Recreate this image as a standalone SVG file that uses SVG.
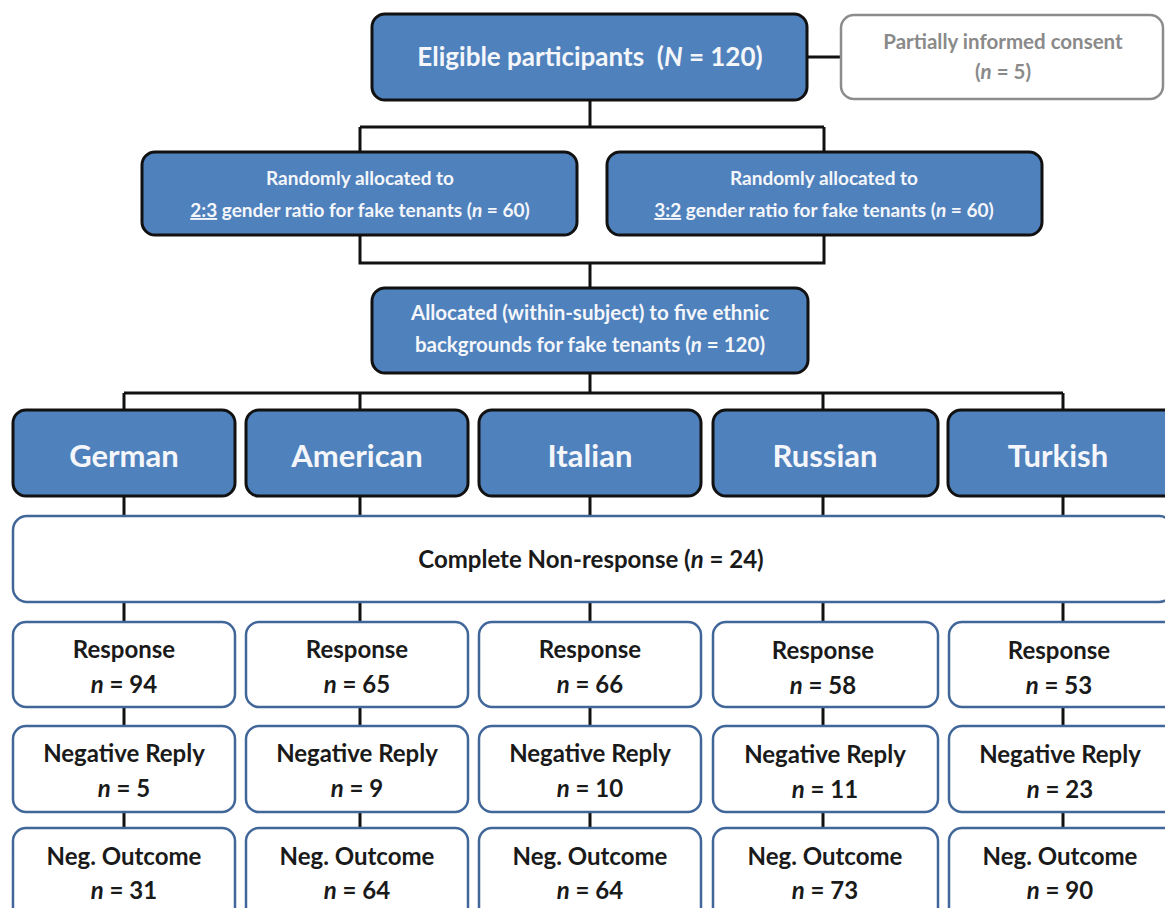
<svg xmlns="http://www.w3.org/2000/svg" width="1165" height="908" viewBox="0 0 1165 908">
<style>
.blue{fill:#4f81bd;stroke:#111;stroke-width:3}
.wbox{fill:#fff;stroke:#41679a;stroke-width:2.5}
.gbox{fill:#fff;stroke:#8c8c8c;stroke-width:2.5}
.conn{fill:none;stroke:#111;stroke-width:3}
text{font-family:Lato,"Open Sans","Liberation Sans",sans-serif;font-weight:bold;text-anchor:middle}
.wt{fill:#f4f6fa}
.bt{fill:#1a1a1a}
.gt{fill:#8a8a8a}
.it{font-style:italic}
.t1{font-size:26px}
.t2{font-size:19px}
.t5{font-size:20.5px}
.t3{font-size:31px}
.t4{font-size:24px}
</style>
<g id="connectors">
<path class="conn" d="M807,57 H840"/>
<path class="conn" d="M590,100 V127 M360,127 H824 M360,127 V152 M824,127 V152"/>
<path class="conn" d="M360,235 V263 H824 V235 M590,263 V288"/>
<path class="conn" d="M590,373 V393 M124,393 H1063 M124,393 V410 M360,393 V410 M823,393 V410 M1063,393 V410"/>
<path class="conn" d="M124,496 V516 M360,496 V516 M590,496 V516 M823,496 V516 M1063,496 V516"/>
<path class="conn" d="M124,602 V622 M360,602 V622 M590,602 V622 M823,602 V622 M1063,602 V622"/>
<path class="conn" d="M124,707 V726 M360,707 V726 M590,707 V726 M823,707 V726 M1063,707 V726"/>
<path class="conn" d="M124,812 V828 M360,812 V828 M590,812 V828 M823,812 V828 M1063,812 V828"/>
</g>
<g id="eligible">
<rect class="blue" x="372" y="14" width="435" height="86" rx="13"/>
<text class="wt t1" x="590" y="66">Eligible participants&#160; (<tspan class="it">N</tspan> = 120)</text>
</g>
<g id="consent">
<rect class="gbox" x="841" y="15" width="322" height="84" rx="13"/>
<text class="gt t5" x="1003" y="49">Partially informed consent</text>
<text class="gt t5" x="1003" y="79">(<tspan class="it">n</tspan> = 5)</text>
</g>
<g id="ratio23">
<rect class="blue" x="142" y="152" width="435" height="83" rx="13"/>
<text class="wt t2" x="360" y="185">Randomly allocated to</text>
<text class="wt t2" x="360" y="217"><tspan text-decoration="underline">2:3</tspan> gender ratio for fake tenants (<tspan class="it">n</tspan> = 60)</text>
</g>
<g id="ratio32">
<rect class="blue" x="607" y="152" width="435" height="83" rx="13"/>
<text class="wt t2" x="824" y="185">Randomly allocated to</text>
<text class="wt t2" x="824" y="217"><tspan text-decoration="underline">3:2</tspan> gender ratio for fake tenants (<tspan class="it">n</tspan> = 60)</text>
</g>
<g id="ethnic">
<rect class="blue" x="372" y="288" width="436" height="85" rx="13"/>
<text class="wt t5" x="590" y="320">Allocated (within-subject) to five ethnic</text>
<text class="wt t5" x="590" y="352">backgrounds for fake tenants (<tspan class="it">n</tspan> = 120)</text>
</g>
<g id="german">
<rect class="blue" x="13" y="410" width="222" height="86" rx="13"/>
<text class="wt t3" x="124" y="467">German</text>
</g>
<g id="american">
<rect class="blue" x="246" y="410" width="222" height="86" rx="13"/>
<text class="wt t3" x="357" y="467">American</text>
</g>
<g id="italian">
<rect class="blue" x="479" y="410" width="222" height="86" rx="13"/>
<text class="wt t3" x="590" y="467">Italian</text>
</g>
<g id="russian">
<rect class="blue" x="713" y="410" width="225" height="86" rx="13"/>
<text class="wt t3" x="825" y="467">Russian</text>
</g>
<g id="turkish">
<rect class="blue" x="948" y="410" width="230" height="86" rx="13"/>
<text class="wt t3" x="1058" y="467">Turkish</text>
</g>
<g id="nonresponse">
<rect class="wbox" x="13" y="516" width="1160" height="86" rx="14"/>
<text class="bt t4" x="591" y="568">Complete Non-response (<tspan class="it">n</tspan> = 24)</text>
</g>
<g id="response-german">
<rect class="wbox" x="13" y="622" width="222" height="85" rx="13"/>
<text class="bt t4" x="124" y="658">Response</text>
<text class="bt t4" x="124" y="693"><tspan class="it">n</tspan> = 94</text>
</g>
<g id="response-american">
<rect class="wbox" x="246" y="622" width="222" height="85" rx="13"/>
<text class="bt t4" x="357" y="658">Response</text>
<text class="bt t4" x="357" y="693"><tspan class="it">n</tspan> = 65</text>
</g>
<g id="response-italian">
<rect class="wbox" x="479" y="622" width="222" height="85" rx="13"/>
<text class="bt t4" x="590" y="658">Response</text>
<text class="bt t4" x="590" y="693"><tspan class="it">n</tspan> = 66</text>
</g>
<g id="response-russian">
<rect class="wbox" x="713" y="622" width="225" height="85" rx="13"/>
<text class="bt t4" x="823" y="659">Response</text>
<text class="bt t4" x="823" y="694"><tspan class="it">n</tspan> = 58</text>
</g>
<g id="response-turkish">
<rect class="wbox" x="949" y="622" width="230" height="85" rx="13"/>
<text class="bt t4" x="1059" y="659">Response</text>
<text class="bt t4" x="1059" y="694"><tspan class="it">n</tspan> = 53</text>
</g>
<g id="negreply-german">
<rect class="wbox" x="13" y="726" width="222" height="86" rx="13"/>
<text class="bt t4" x="124" y="762">Negative Reply</text>
<text class="bt t4" x="124" y="797"><tspan class="it">n</tspan> = 5</text>
</g>
<g id="negreply-american">
<rect class="wbox" x="246" y="726" width="222" height="86" rx="13"/>
<text class="bt t4" x="357" y="762">Negative Reply</text>
<text class="bt t4" x="357" y="797"><tspan class="it">n</tspan> = 9</text>
</g>
<g id="negreply-italian">
<rect class="wbox" x="479" y="726" width="222" height="86" rx="13"/>
<text class="bt t4" x="590" y="762">Negative Reply</text>
<text class="bt t4" x="590" y="797"><tspan class="it">n</tspan> = 10</text>
</g>
<g id="negreply-russian">
<rect class="wbox" x="713" y="726" width="225" height="86" rx="13"/>
<text class="bt t4" x="825" y="763">Negative Reply</text>
<text class="bt t4" x="825" y="798"><tspan class="it">n</tspan> = 11</text>
</g>
<g id="negreply-turkish">
<rect class="wbox" x="949" y="726" width="230" height="86" rx="13"/>
<text class="bt t4" x="1060" y="763">Negative Reply</text>
<text class="bt t4" x="1060" y="798"><tspan class="it">n</tspan> = 23</text>
</g>
<g id="outcome-german">
<rect class="wbox" x="13" y="828" width="222" height="100" rx="13"/>
<text class="bt t4" x="124" y="865">Neg. Outcome</text>
<text class="bt t4" x="124" y="899"><tspan class="it">n</tspan> = 31</text>
</g>
<g id="outcome-american">
<rect class="wbox" x="246" y="828" width="222" height="100" rx="13"/>
<text class="bt t4" x="357" y="865">Neg. Outcome</text>
<text class="bt t4" x="357" y="899"><tspan class="it">n</tspan> = 64</text>
</g>
<g id="outcome-italian">
<rect class="wbox" x="479" y="828" width="222" height="100" rx="13"/>
<text class="bt t4" x="590" y="865">Neg. Outcome</text>
<text class="bt t4" x="590" y="899"><tspan class="it">n</tspan> = 64</text>
</g>
<g id="outcome-russian">
<rect class="wbox" x="713" y="828" width="225" height="100" rx="13"/>
<text class="bt t4" x="825" y="865">Neg. Outcome</text>
<text class="bt t4" x="825" y="899"><tspan class="it">n</tspan> = 73</text>
</g>
<g id="outcome-turkish">
<rect class="wbox" x="949" y="828" width="230" height="100" rx="13"/>
<text class="bt t4" x="1060" y="865">Neg. Outcome</text>
<text class="bt t4" x="1060" y="899"><tspan class="it">n</tspan> = 90</text>
</g>
</svg>
